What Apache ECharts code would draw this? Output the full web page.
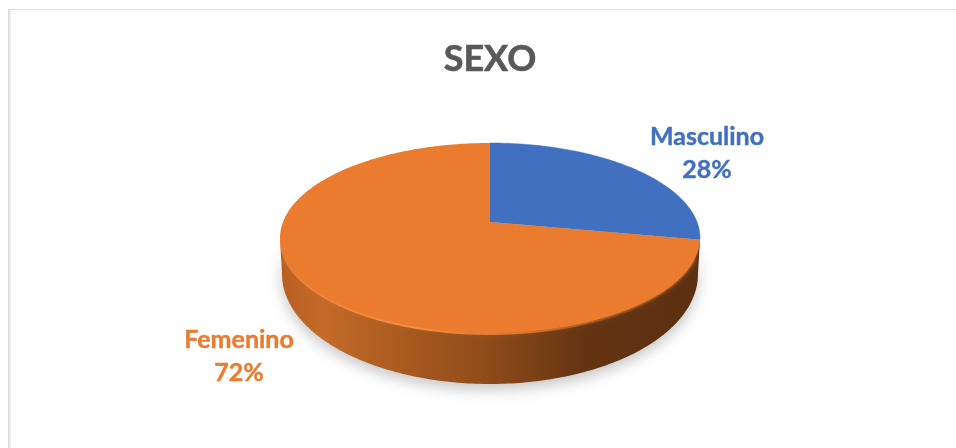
<!DOCTYPE html>
<html>
<head>
<meta charset="utf-8">
<style>
  html, body { margin: 0; padding: 0; background: #fff; }
  #chart { width: 956px; height: 448px; }
</style>
<script src="https://cdn.jsdelivr.net/npm/echarts@6/dist/echarts.min.js"></script>
</head>
<body>
<div id="chart"></div>
<script>
// Survey respondents by sex, in percent
const sexCategories = ['Masculino', 'Femenino'];
const sexValues = [28, 72];
const sliceColors = ['#4170C0', '#EB7B2F'];
const chartTitle = 'SEXO';

// Top face of the disc, seen in perspective
const disc = { x: 490, y: 222, radius: 207, spread: 92.3, tilt: -0.168 };
// Lower rim of the disc
const base = { x: 490, y: 274, rx: 208, ry: 110 };
// Label anchors (centre of each two-line label)
const labelAnchors = [[707, 153], [239, 356]];

const total = sexValues.reduce((a, b) => a + b, 0);
const rad = (deg) => deg * Math.PI / 180;

// Angle is measured clockwise from the back of the disc
function topPoint(deg, dy) {
  const c = Math.sin(rad(deg));
  const s = -Math.cos(rad(deg));
  const w = 1 + disc.tilt * s;
  return [disc.x + disc.radius * c / w, disc.y + disc.spread * s / w + (dy || 0)];
}
function basePoint(deg) {
  return [base.x + base.rx * Math.sin(rad(deg)), base.y - base.ry * Math.cos(rad(deg))];
}
function arc(fn, from, to, dy) {
  const pts = [];
  const steps = Math.max(2, Math.ceil(Math.abs(to - from)));
  for (let i = 0; i <= steps; i++) pts.push(fn(from + (to - from) * i / steps, dy));
  return pts;
}
const hGradient = (stops) => new echarts.graphic.LinearGradient(0, 0, 1, 0,
  stops.map(([offset, color]) => ({ offset, color })));

// Wall, lit bevel and soft front edge sit underneath the slices
function discBody() {
  const rim = arc(basePoint, 270, 90);
  return [
    {
      type: 'polygon',
      shape: { points: [topPoint(260)].concat(rim, [topPoint(100)], arc(topPoint, 100, 260)) },
      style: {
        fill: hGradient([
          [0, '#B55F22'], [0.1, '#C46A28'], [0.3, '#A85A20'], [0.5, '#8E4B1A'],
          [0.72, '#653412'], [1, '#5B2F10']
        ]),
        shadowColor: 'rgba(0,0,0,0.22)', shadowBlur: 14, shadowOffsetY: 6
      }
    },
    {
      type: 'polygon',
      shape: { points: arc(topPoint, 100, 260, 2) },
      style: {
        fill: hGradient([
          [0, '#EE8639'], [0.3, '#F4964C'], [0.55, '#DC782E'], [0.78, '#8C4C1C'], [1, '#6E3A14']
        ])
      }
    },
    {
      type: 'polygon',
      shape: { points: arc(topPoint, 112, 248, -2) },
      style: { fill: sliceColors[1], shadowColor: sliceColors[1], shadowBlur: 6 }
    }
  ];
}

function renderSlice(params, api) {
  const i = params.dataIndex;
  const before = sexValues.slice(0, i).reduce((a, b) => a + b, 0);
  const start = before / total * 360;
  const end = start + api.value(0) / total * 360;
  const children = i === 0 ? discBody() : [];
  children.push({
    type: 'polygon',
    shape: { points: [[disc.x, disc.y]].concat(arc(topPoint, start, end, 0)) },
    style: { fill: sliceColors[i], stroke: i === 0 ? sliceColors[i] : null, lineWidth: 0.5 }
  });
  children.push({
    type: 'text',
    style: {
      x: labelAnchors[i][0], y: labelAnchors[i][1],
      text: sexCategories[i] + '\n' + Math.round(api.value(0) / total * 100) + '%',
      fill: sliceColors[i],
      stroke: sliceColors[i],
      lineWidth: 0.4,
      font: 'bold 25px Lato',
      lineHeight: 33,
      align: 'center', verticalAlign: 'middle'
    }
  });
  return { type: 'group', children };
}

const chart = echarts.init(document.getElementById('chart'), null, { renderer: 'canvas' });
chart.setOption({
  animation: false,
  backgroundColor: '#ffffff',
  title: {
    text: chartTitle, left: 485, top: 36, textAlign: 'center',
    textStyle: {
      color: '#595959', fontFamily: 'Lato', fontWeight: 'bold', fontSize: 36,
      textBorderColor: '#595959', textBorderWidth: 0.6
    }
  },
  graphic: [
    { type: 'rect', shape: { x: 8, y: 9, width: 948, height: 1 }, style: { fill: '#D9D9D9' } },
    { type: 'rect', shape: { x: 8, y: 9, width: 1, height: 439 }, style: { fill: '#D9D9D9' } },
    { type: 'rect', shape: { x: 9, y: 10, width: 2, height: 438 }, style: { fill: '#EBEBEB' } }
  ],
  series: [{
    type: 'custom',
    coordinateSystem: 'none',
    renderItem: renderSlice,
    data: sexCategories.map((name, i) => ({ name, value: [sexValues[i]] }))
  }]
});
</script>
</body>
</html>
